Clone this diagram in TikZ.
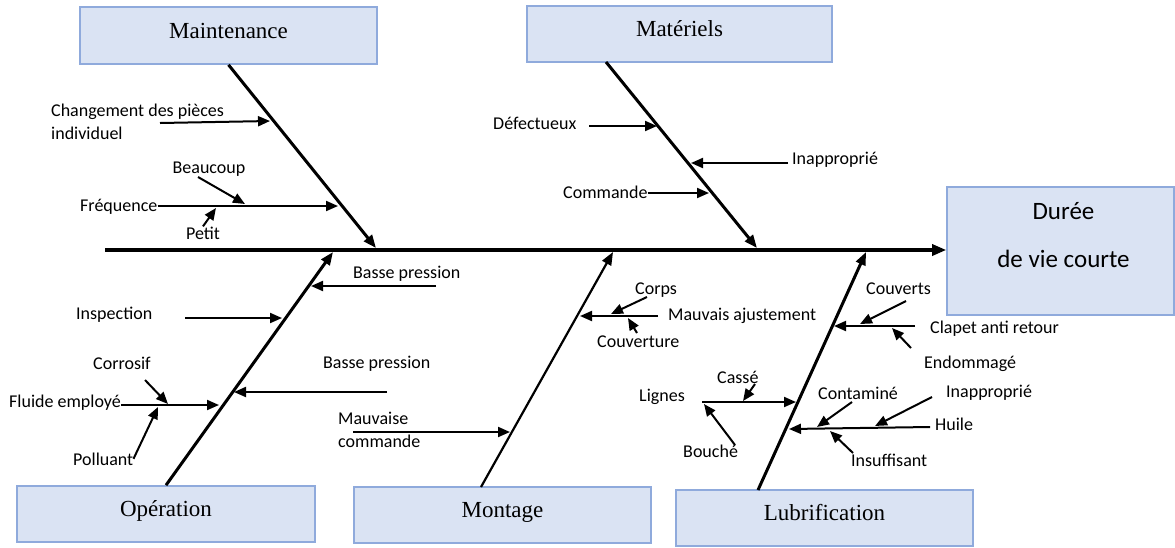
\documentclass[tikz,border=0pt]{standalone}
\usepackage{fontspec}
\setmainfont{Liberation Serif}
\newfontfamily\labfont{Carlito}
\usetikzlibrary{arrows.meta}
\definecolor{boxfill}{HTML}{DAE3F3}
\definecolor{boxline}{HTML}{8FAADC}
\begin{document}
\begin{tikzpicture}[x=1pt,y=-1pt,
  causebox/.style={draw=boxline, fill=boxfill, line width=1.6pt, inner sep=0pt,
    minimum width=297pt, minimum height=56pt,
    font=\fontsize{23}{27}\selectfont, text height=16pt, text depth=11pt},
  effecttext/.style={inner sep=0pt, anchor=north, align=center,
    font=\labfont\fontsize{25}{48}\selectfont},
  lab/.style={inner sep=0pt, anchor=base west, font=\labfont\fontsize{18}{23}\selectfont},
  spine/.style={line width=3.2pt, -{Triangle[length=14pt,width=11pt]}},
  bone/.style={line width=3pt, -{Triangle[length=13pt,width=10pt]}},
  sub/.style={line width=2pt, -{Triangle[length=12pt,width=10pt]}},
]
\useasboundingbox (0,0) rectangle (1175,547);

% effect
\node[causebox, minimum width=227pt, minimum height=128pt] (effect) at (1060.5,251) {};
\node[effecttext] (effectlbl) at (1063.5,202) {Durée\\de vie courte};

% backbone
\coordinate (spineStart) at (105,250);
\draw[spine] (spineStart) -- (effect.west |- spineStart);

% category boxes
\node[causebox, minimum height=57pt] (maint) at (228.5,35.5) {Maintenance};
\node[causebox, minimum width=305pt] (mat) at (679.5,34) {Matériels};
\node[causebox, minimum width=298pt] (oper) at (166,514) {Opération};
\node[causebox] (mont) at (502.5,515) {Montage};
\node[causebox] (lub) at (824.5,518) {Lubrification};

% main bones
\coordinate (maintTip) at (376,248);
\draw[bone] (maint.south) -- (maintTip);
\coordinate (matFoot) at (606,62);
\coordinate (matTip) at (757,248);
\draw[bone] (matFoot) -- (matTip);
\coordinate (operTip) at (333,252);
\draw[bone] (oper.north) -- (operTip);
\coordinate (montFoot) at (481,487);
\coordinate (montTip) at (613,252);
\draw[bone, line width=2.2pt] (montFoot) -- (montTip);
\coordinate (lubFoot) at (758,490);
\coordinate (lubTip) at (866,252);
\draw[bone] (lubFoot) -- (lubTip);

% --- Maintenance ---
\node[lab, anchor=north west, align=left] (chg) at (51,104) {Changement des pièces\\individuel};
\coordinate (chgA) at (160,123); \coordinate (chgB) at (270,121);
\draw[sub] (chgA) -- (chgB);
\node[lab] (freq) at (80,211) {Fréquence};
\coordinate (freqB) at (338,206);
\draw[sub] (freq.east |- freqB) -- (freqB);
\node[lab, anchor=base] (beau) at (209,173) {Beaucoup};
\coordinate (beauA) at (198,177); \coordinate (beauB) at (245,204);
\draw[sub] (beauA) -- (beauB);
\node[lab, anchor=base] (petit) at (203,239) {Petit};
\coordinate (petitB) at (216,208);
\draw[sub] (petit.north) -- (petitB);

% --- Matériels ---
\node[lab] (defect) at (493,129) {Défectueux};
\coordinate (defA) at (589,126); \coordinate (defB) at (657,126);
\draw[sub] (defA) -- (defB);
\node[lab] (inapA) at (792,164) {Inapproprié};
\coordinate (inapAa) at (788,163); \coordinate (inapAb) at (691,163);
\draw[sub] (inapAa) -- (inapAb);
\node[lab] (cmd) at (563,198) {Commande};
\coordinate (cmdB) at (709,193);
\draw[sub] (cmd.east |- cmdB) -- (cmdB);

% --- Opération ---
\node[lab] (bpA) at (353,278) {Basse pression};
\coordinate (bpAa) at (436,286); \coordinate (bpAb) at (311,286);
\draw[sub] (bpAa) -- (bpAb);
\node[lab] (insp) at (76,319) {Inspection};
\coordinate (inspA) at (185,318); \coordinate (inspB) at (282,318);
\draw[sub] (inspA) -- (inspB);
\node[lab] (corr) at (93,369) {Corrosif};
\coordinate (corrA) at (145,380); \coordinate (corrB) at (168,404);
\draw[sub] (corrA) -- (corrB);
\node[lab] (fluide) at (9,407) {Fluide employé};
\coordinate (fluideB) at (219,405);
\draw[sub] (fluide.east |- fluideB) -- (fluideB);
\node[lab] (poll) at (73,465) {Polluant};
\coordinate (pollB) at (158,407);
\draw[sub] (poll.east) -- (pollB);
\node[lab] (bpB) at (323,368) {Basse pression};
\coordinate (bpBa) at (387,392); \coordinate (bpBb) at (234,392);
\draw[sub] (bpBa) -- (bpBb);
\node[lab, anchor=north west, align=left] (mcmd) at (338,412) {Mauvaise\\commande};
\coordinate (mcmdA) at (353,432); \coordinate (mcmdB) at (510,432);
\draw[sub] (mcmdA) -- (mcmdB);

% --- Montage ---
\node[lab] (corps) at (635,294) {Corps};
\coordinate (corpsA) at (647,297); \coordinate (corpsB) at (611,314);
\draw[sub] (corpsA) -- (corpsB);
\node[lab] (majust) at (668,320) {Mauvais ajustement};
\coordinate (majA) at (658,316); \coordinate (majB) at (580,316);
\draw[sub] (majA) -- (majB);
\node[lab] (couv) at (597,347) {Couverture};
\coordinate (couvA) at (637,333); \coordinate (couvB) at (628,318);
\draw[sub] (couvA) -- (couvB);

% --- Lubrification ---
\node[lab] (lignes) at (639,401) {Lignes};
\coordinate (lignesA) at (702,402); \coordinate (lignesB) at (796,402);
\draw[sub] (lignesA) -- (lignesB);
\node[lab] (casse) at (717,383) {Cassé};
\coordinate (casseA) at (755,384); \coordinate (casseB) at (743,401);
\draw[sub] (casseA) -- (casseB);
\node[lab] (bouche) at (683,457) {Bouché};
\coordinate (boucheA) at (735,445); \coordinate (boucheB) at (704,404);
\draw[sub] (boucheA) -- (boucheB);
\node[lab] (couverts) at (866,294) {Couverts};
\coordinate (couvertsA) at (906,301); \coordinate (couvertsB) at (860,324);
\draw[sub] (couvertsA) -- (couvertsB);
\node[lab] (clapet) at (930,333) {Clapet anti retour};
\coordinate (clapetA) at (915,326); \coordinate (clapetB) at (834,326);
\draw[sub] (clapetA) -- (clapetB);
\node[lab] (endom) at (924,368) {Endommagé};
\coordinate (endomA) at (911,348); \coordinate (endomB) at (892,328);
\draw[sub] (endomA) -- (endomB);
\node[lab] (contam) at (818,399) {Contaminé};
\coordinate (contamA) at (852,402); \coordinate (contamB) at (817,427);
\draw[sub] (contamA) -- (contamB);
\node[lab] (inapB) at (946,397) {Inapproprié};
\coordinate (inapBa) at (932,397); \coordinate (inapBb) at (875,426);
\draw[sub] (inapBa) -- (inapBb);
\node[lab] (huile) at (935,430) {Huile};
\coordinate (huileA) at (930,427); \coordinate (huileB) at (789,429);
\draw[sub] (huileA) -- (huileB);
\node[lab] (insuf) at (851,466) {Insuffisant};
\coordinate (insufA) at (853,453); \coordinate (insufB) at (830,431);
\draw[sub] (insufA) -- (insufB);
\end{tikzpicture}
\end{document}
